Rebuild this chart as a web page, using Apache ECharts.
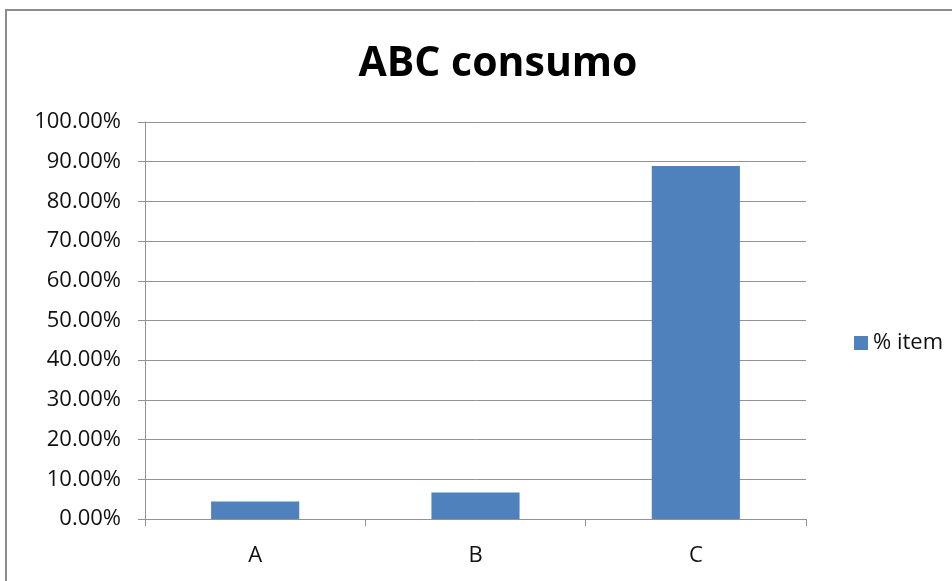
<!DOCTYPE html>
<html>
<head>
<meta charset="utf-8">
<script src="https://cdn.jsdelivr.net/npm/echarts@6/dist/echarts.min.js"></script>
<style>
  html, body { margin: 0; padding: 0; background: #fff; }
  #frame { position: absolute; left: 5px; top: 9px; width: 960px; height: 600px; border: 2px solid #8c8c8c; box-sizing: border-box; }
  #chart { position: absolute; left: 0; top: 0; width: 952px; height: 581px; }
</style>
</head>
<body>
<div id="frame"></div>
<div id="chart"></div>
<script>
// Share of items per ABC class
const categories = ['A', 'B', 'C'];
const itemShare = [4.4, 6.7, 88.9];
const seriesName = '% item';
const titleText = 'ABC consumo';

const chart = echarts.init(document.getElementById('chart'), null, { renderer: 'canvas' });
const font = '"Open Sans", sans-serif';
const lineGray = '#939393';

chart.setOption({
  animation: false,
  backgroundColor: 'transparent',
  title: {
    text: titleText,
    left: 493,
    textAlign: 'center',
    top: 39,
    textStyle: { fontFamily: font, fontSize: 41, fontWeight: 'bold', color: '#000' }
  },
  legend: {
    data: [{ name: seriesName, icon: 'rect' }],
    left: 849,
    top: 327,
    itemWidth: 14,
    itemHeight: 14,
    itemGap: 8,
    textStyle: { fontFamily: font, fontSize: 22, color: '#111' }
  },
  grid: { left: 145, right: 146, top: 122, bottom: 62 },
  xAxis: {
    type: 'category',
    data: categories,
    axisLine: { lineStyle: { color: lineGray, width: 1 } },
    axisTick: { show: true, length: 7, lineStyle: { color: lineGray } },
    axisLabel: { fontFamily: font, fontSize: 22, color: '#111', margin: 26 }
  },
  yAxis: {
    type: 'value',
    min: 0,
    max: 100,
    interval: 10,
    axisLine: { show: true, lineStyle: { color: lineGray, width: 1 } },
    axisTick: { show: true, length: 7, lineStyle: { color: lineGray } },
    axisLabel: {
      fontFamily: font, fontSize: 22, color: '#111', margin: 24,
      formatter: v => v.toFixed(2) + '%'
    },
    splitLine: { lineStyle: { color: lineGray, width: 1 } }
  },
  series: [{
    name: seriesName,
    type: 'bar',
    data: itemShare,
    barWidth: '40%',
    itemStyle: { color: '#4f81bd' }
  }]
});
</script>
</body>
</html>
